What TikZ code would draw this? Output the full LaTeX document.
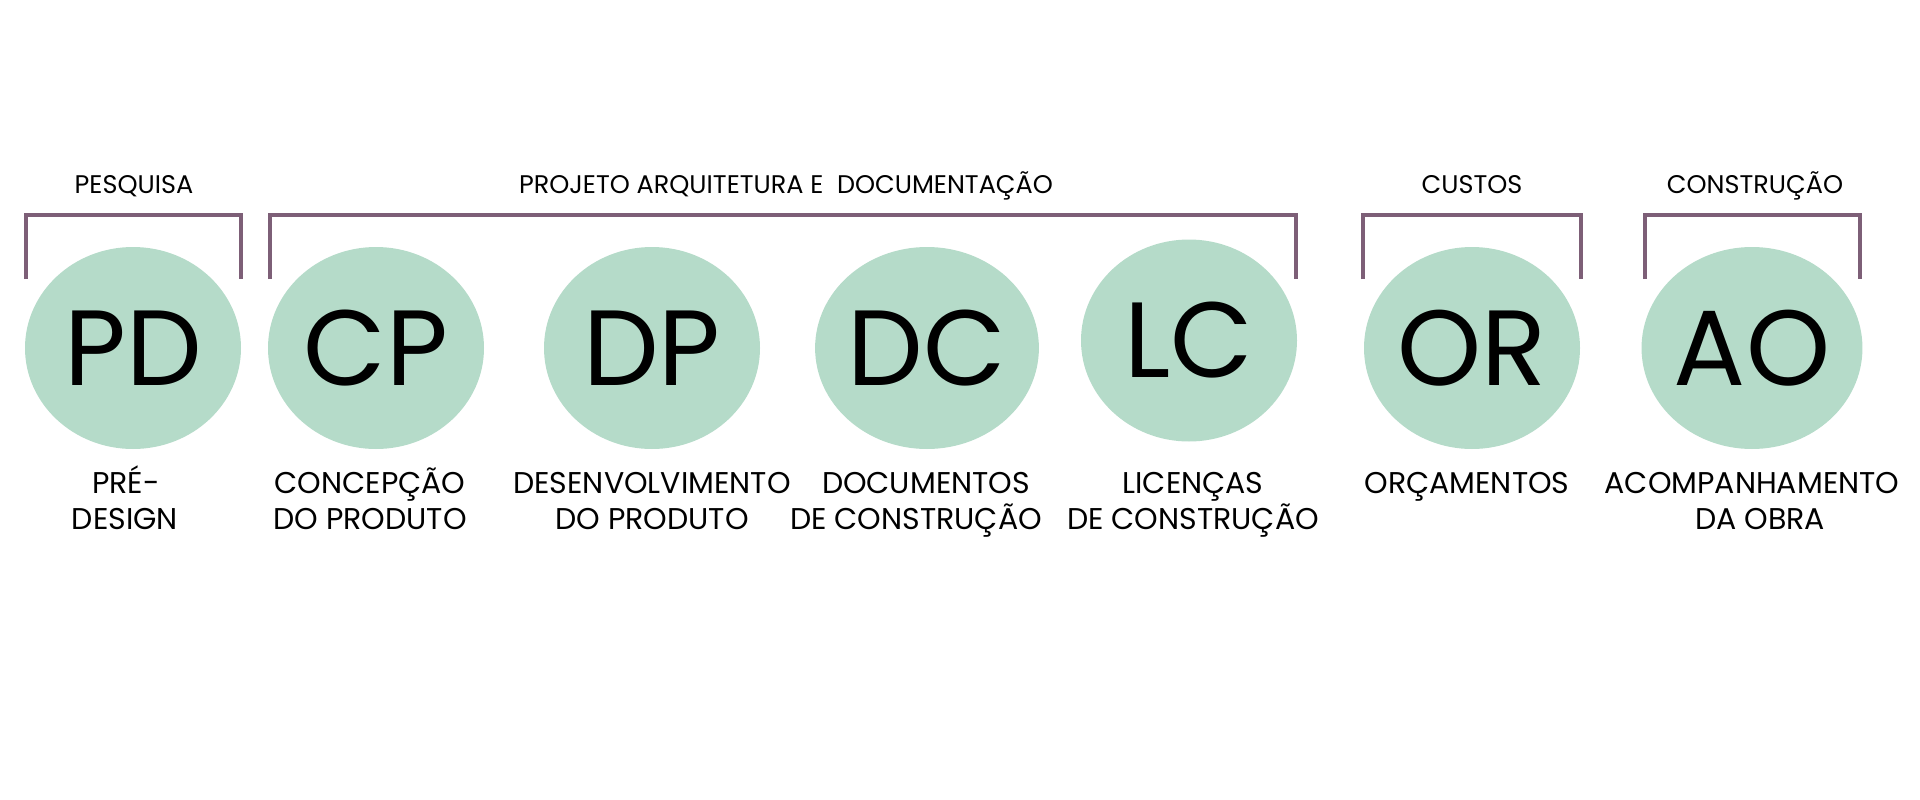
\documentclass[tikz,border=0pt]{standalone}
\usepackage{fontspec}
\setmainfont{Poppins}
\usetikzlibrary{shapes.geometric}
\definecolor{mint}{HTML}{B5DBC9}
\definecolor{mauve}{HTML}{7D5F77}
\begin{document}
\begin{tikzpicture}[x=1pt,y=-1pt,
  stage/.style={ellipse,fill=mint,minimum width=216pt,minimum height=202pt,inner sep=0pt,
    font=\fontsize{107}{107}\selectfont},
  lbl/.style={anchor=base,inner sep=0pt,font=\fontsize{30}{34}\selectfont},
  hdr/.style={anchor=base,inner sep=0pt,font=\fontsize{25.5}{28}\selectfont},
  brk/.style={draw=mauve,line width=4pt}]
\useasboundingbox (0,0) rectangle (1920,800);
% circles
\node[stage] (pd) at (133,348) {PD};
\node[stage] (cp) at (376,348) {CP};
\node[stage] (dp) at (652,348) {DP};
\node[stage] (dc) at (927,348) {DC};
\node[stage] (lc) at (1189,340.5) {LC};
\node[stage] (or) at (1472,348) {OR};
\node[stage] (ao) at (1752,348) {AO};
% labels
\node[lbl] (pd1) at (126,493.5) {PRÉ-};
\node[lbl] (pd2) at (125,529.5) {DESIGN};
\node[lbl] (cp1) at (370,493.5) {CONCEPÇÃO};
\node[lbl] (cp2) at (370,529.5) {DO PRODUTO};
\node[lbl] (dp1) at (652,493.5) {DESENVOLVIMENTO};
\node[lbl] (dp2) at (652,529.5) {DO PRODUTO};
\node[lbl] (dc1) at (926,493.5) {DOCUMENTOS};
\node[lbl] (dc2) at (916,529.5) {DE CONSTRUÇÃO};
\node[lbl] (lc1) at (1193,493.5) {LICENÇAS};
\node[lbl] (lc2) at (1193,529.5) {DE CONSTRUÇÃO};
\node[lbl] (or1) at (1467,493.5) {ORÇAMENTOS};
\node[lbl] (ao1) at (1752,493.5) {ACOMPANHAMENTO};
\node[lbl] (ao2) at (1760,529.5) {DA OBRA};
% headers
\node[hdr] (h1) at (134,193) {PESQUISA};
\node[hdr] (h2) at (786,193) {PROJETO ARQUITETURA E\ \ DOCUMENTAÇÃO};
\node[hdr] (h3) at (1472,193) {CUSTOS};
\node[hdr] (h4) at (1755,193) {CONSTRUÇÃO};
% brackets
\coordinate (b1a) at (26,279); \coordinate (b1b) at (241,279);
\coordinate (b2a) at (270,279); \coordinate (b2b) at (1296,279);
\coordinate (b3a) at (1363,279); \coordinate (b3b) at (1581,279);
\coordinate (b4a) at (1645,279); \coordinate (b4b) at (1860,279);
\draw[brk] (b1a) -- ++(0,-64) -| (b1b);
\draw[brk] (b2a) -- ++(0,-64) -| (b2b);
\draw[brk] (b3a) -- ++(0,-64) -| (b3b);
\draw[brk] (b4a) -- ++(0,-64) -| (b4b);
\end{tikzpicture}
\end{document}
